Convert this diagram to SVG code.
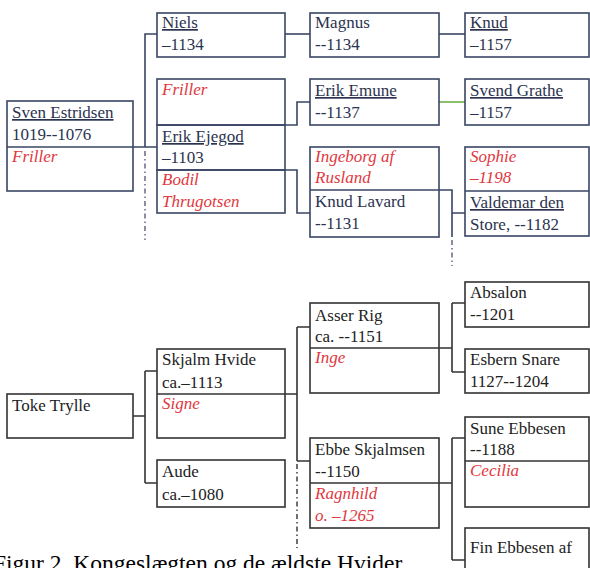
<svg xmlns="http://www.w3.org/2000/svg" width="590" height="568" viewBox="0 0 590 568" font-family="'Liberation Serif', 'Times New Roman', serif">
<style>
  text { font-family: "Liberation Serif", "Times New Roman", serif; font-size: 17px; }
  .t { fill: #2b3350; }
  .b { fill: #222222; }
  .u { text-decoration: underline; }
  .w { fill: #e0383e; font-style: italic; }
  .bt { fill: none; stroke: #3a4564; stroke-width: 1.6; }
  .bb { fill: none; stroke: #333333; stroke-width: 1.6; }
  .ct { fill: none; stroke: #3a4564; stroke-width: 1.6; }
  .cb { fill: none; stroke: #333333; stroke-width: 1.6; }
  .dt { fill: none; stroke: #5a6078; stroke-width: 1.4; stroke-dasharray: 5 3 1.5 3; }
  .db { fill: none; stroke: #333333; stroke-width: 1.4; stroke-dasharray: 5 3 1.5 3; }
  .cap { font-size: 23.5px; fill: #000000; }
</style>
<rect width="590" height="568" fill="#ffffff"/>

<g id="connectors">
  <!-- top -->
  <path class="ct" d="M133,147 H157 M145,147 V34 H157"/>
  <path class="dt" d="M145,151 V240"/>
  <path class="ct" d="M285,34 H310"/>
  <path class="ct" d="M285,125 H297 V102 H310"/>
  <path class="ct" d="M285,170 H297 V213 H310"/>
  <path class="ct" d="M439,34 H465"/>
  <path fill="none" stroke="#6fb04a" stroke-width="1.6" d="M439,102 H465"/>
  <path class="ct" d="M439,190 H452 V237 M452,213 H465"/>
  <path class="dt" d="M452,240 V266"/>
  <!-- bottom -->
  <path class="cb" d="M133,416 H145 M145,371 V483 M145,371 H157 M145,483 H157"/>
  <path class="cb" d="M285,394 H297 M297,327 V461 M297,327 H310 M297,461 H310"/>
  <path class="db" d="M297,464 V548"/>
  <path class="cb" d="M439,348 H452 M452,303 V372 M452,303 H465 M452,372 H465"/>
  <path class="cb" d="M439,483 H452 M452,438 V560 M452,438 H465 M452,560 H465"/>
</g>

<g id="sven">
  <rect class="bt" x="7" y="101" width="126" height="90"/>
  <line class="bt" x1="7" y1="147" x2="133" y2="147"/>
  <text class="t u" x="12" y="118">Sven Estridsen</text>
  <text class="t" x="12" y="140">1019--1076</text>
  <text class="w" x="12" y="162">Friller</text>
</g>
<g id="niels">
  <rect class="bt" x="157" y="13" width="128" height="44"/>
  <text class="t u" x="162" y="28">Niels</text>
  <text class="t" x="162" y="50">–1134</text>
</g>
<g id="friller">
  <rect class="bt" x="157" y="79" width="128" height="46"/>
  <text class="w" x="162" y="95">Friller</text>
</g>
<g id="erik-ejegod">
  <rect class="bt" x="157" y="125" width="128" height="45"/>
  <text class="t u" x="162" y="142">Erik Ejegod</text>
  <text class="t" x="162" y="163">–1103</text>
</g>
<g id="bodil">
  <rect class="bt" x="157" y="170" width="128" height="43"/>
  <text class="w" x="162" y="185">Bodil</text>
  <text class="w" x="162" y="207">Thrugotsen</text>
</g>
<g id="magnus">
  <rect class="bt" x="310" y="13" width="129" height="44"/>
  <text class="t" x="315" y="28">Magnus</text>
  <text class="t" x="315" y="50">--1134</text>
</g>
<g id="erik-emune">
  <rect class="bt" x="310" y="79" width="129" height="46"/>
  <text class="t u" x="315" y="96">Erik Emune</text>
  <text class="t" x="315" y="118">--1137</text>
</g>
<g id="knud-lavard">
  <rect class="bt" x="310" y="147" width="129" height="90"/>
  <line class="bt" x1="310" y1="190" x2="439" y2="190"/>
  <text class="w" x="315" y="162">Ingeborg af</text>
  <text class="w" x="315" y="183">Rusland</text>
  <text class="t" x="315" y="207">Knud Lavard</text>
  <text class="t" x="315" y="229">--1131</text>
</g>
<g id="knud">
  <rect class="bt" x="465" y="13" width="124" height="44"/>
  <text class="t u" x="470" y="28">Knud</text>
  <text class="t" x="470" y="50">–1157</text>
</g>
<g id="svend-grathe">
  <rect class="bt" x="465" y="79" width="124" height="46"/>
  <text class="t u" x="470" y="96">Svend Grathe</text>
  <text class="t" x="470" y="118">–1157</text>
</g>
<g id="valdemar">
  <rect class="bt" x="465" y="147" width="124" height="89"/>
  <line class="bt" x1="465" y1="191" x2="589" y2="191"/>
  <text class="w" x="470" y="162">Sophie</text>
  <text class="w" x="470" y="183">–1198</text>
  <text class="t u" x="470" y="208">Valdemar den</text>
  <text class="t" x="470" y="230">Store, --1182</text>
</g>

<g id="toke">
  <rect class="bb" x="7" y="394" width="126" height="44"/>
  <text class="b" x="12" y="411">Toke Trylle</text>
</g>
<g id="skjalm">
  <rect class="bb" x="157" y="349" width="128" height="89"/>
  <line class="bb" x1="157" y1="394" x2="285" y2="394"/>
  <text class="b" x="162" y="365">Skjalm Hvide</text>
  <text class="b" x="162" y="388">ca.–1113</text>
  <text class="w" x="162" y="409">Signe</text>
</g>
<g id="aude">
  <rect class="bb" x="157" y="460" width="128" height="47"/>
  <text class="b" x="162" y="477">Aude</text>
  <text class="b" x="162" y="500">ca.–1080</text>
</g>
<g id="asser">
  <rect class="bb" x="310" y="303" width="129" height="90"/>
  <line class="bb" x1="310" y1="348" x2="439" y2="348"/>
  <text class="b" x="315" y="321">Asser Rig</text>
  <text class="b" x="315" y="342">ca. --1151</text>
  <text class="w" x="315" y="363">Inge</text>
</g>
<g id="ebbe">
  <rect class="bb" x="310" y="438" width="129" height="90"/>
  <line class="bb" x1="310" y1="483" x2="439" y2="483"/>
  <text class="b" x="315" y="455">Ebbe Skjalmsen</text>
  <text class="b" x="315" y="477">--1150</text>
  <text class="w" x="315" y="499">Ragnhild</text>
  <text class="w" x="315" y="521">o. –1265</text>
</g>
<g id="absalon">
  <rect class="bb" x="465" y="282" width="124" height="45"/>
  <text class="b" x="470" y="298">Absalon</text>
  <text class="b" x="470" y="320">--1201</text>
</g>
<g id="esbern">
  <rect class="bb" x="465" y="349" width="124" height="44"/>
  <text class="b" x="470" y="365">Esbern Snare</text>
  <text class="b" x="470" y="387">1127--1204</text>
</g>
<g id="sune">
  <rect class="bb" x="465" y="417" width="124" height="90"/>
  <line class="bb" x1="465" y1="461" x2="589" y2="461"/>
  <text class="b" x="470" y="434">Sune Ebbesen</text>
  <text class="b" x="470" y="455">--1188</text>
  <text class="w" x="470" y="476">Cecilia</text>
</g>
<g id="fin">
  <rect class="bb" x="465" y="528" width="124" height="60"/>
  <text class="b" x="470" y="553">Fin Ebbesen af</text>
</g>

<text class="cap" x="-7" y="571">Figur 2. Kongeslægten og de ældste Hvider</text>
</svg>
